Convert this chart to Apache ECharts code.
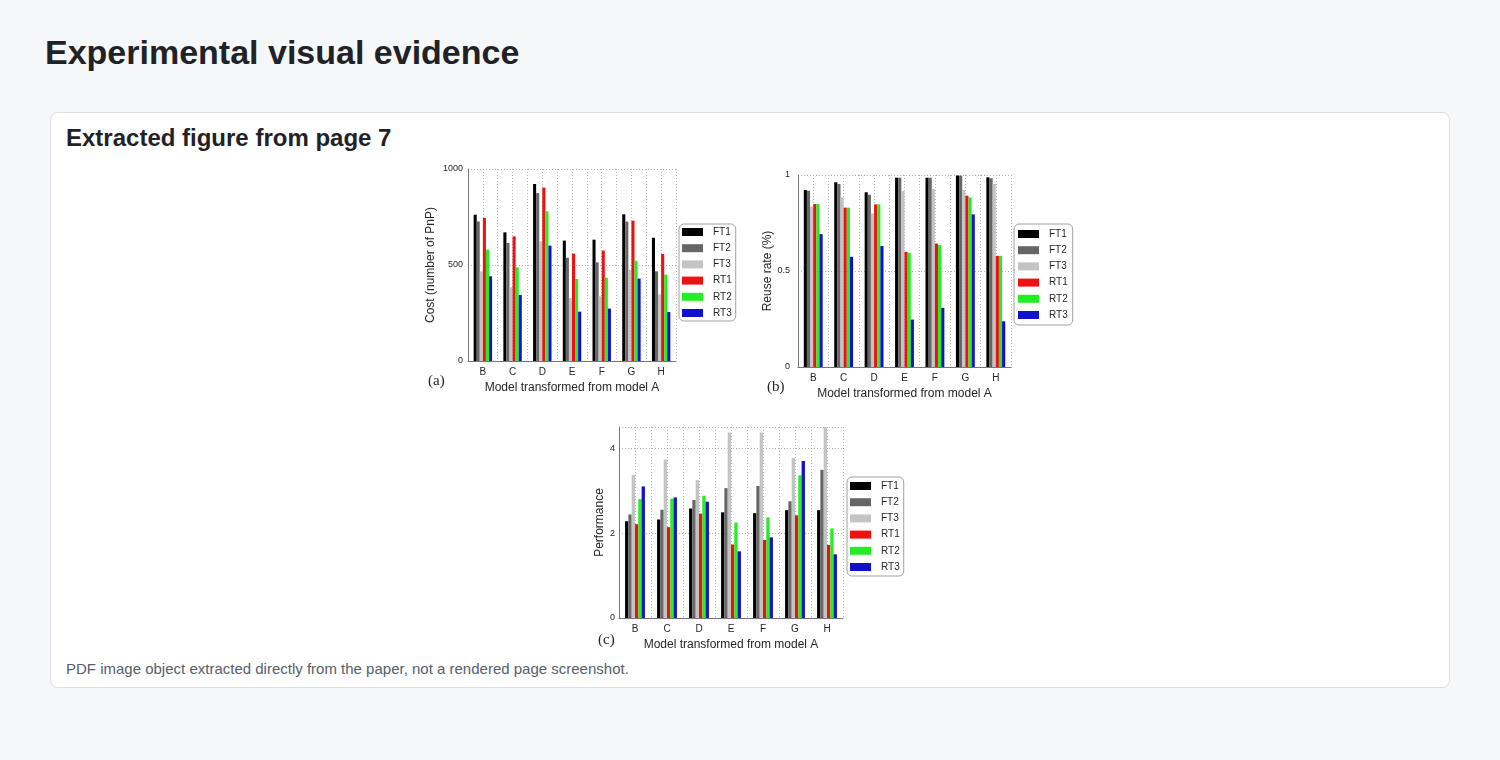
<!DOCTYPE html>
<html>
<head>
<meta charset="utf-8">
<title>Experimental visual evidence</title>
<script src="https://cdn.jsdelivr.net/npm/echarts@6/dist/echarts.min.js"></script>
<style>
  html, body {
    margin: 0;
    padding: 0;
    width: 1500px;
    height: 760px;
    background: #f6f7f9;
    font-family: 'Liberation Sans', Arial, sans-serif;
    overflow: hidden;
  }
  .page-title {
    position: absolute;
    left: 45px;
    top: 35px;
    margin: 0;
    font-size: 34px;
    line-height: 34px;
    font-weight: bold;
    color: #1f2328;
  }
  .card {
    position: absolute;
    left: 50px;
    top: 112px;
    width: 1398px;
    height: 574px;
    background: #fff;
    border: 1px solid #dcdfe4;
    border-radius: 8px;
  }
  .card-title {
    position: absolute;
    left: 66px;
    top: 126px;
    margin: 0;
    font-size: 24px;
    line-height: 24px;
    font-weight: bold;
    color: #1f2328;
  }
  .caption {
    position: absolute;
    left: 66px;
    top: 661px;
    font-size: 15px;
    line-height: 15px;
    color: #57606a;
  }
  #chart {
    position: absolute;
    left: 0;
    top: 0;
    width: 1500px;
    height: 760px;
  }
</style>
</head>
<body>
<h1 class="page-title">Experimental visual evidence</h1>
<div class="card"></div>
<h2 class="card-title">Extracted figure from page 7</h2>
<div class="caption">PDF image object extracted directly from the paper, not a rendered page screenshot.</div>
<div id="chart"></div>
<script>
// categories & series names
const models = ['B', 'C', 'D', 'E', 'F', 'G', 'H'];
const seriesNames = ['FT1', 'FT2', 'FT3', 'RT1', 'RT2', 'RT3'];
const seriesColors = ['#000000', '#666666', '#c4c4c4', '#ee1111', '#22ee22', '#1111cc'];

// (a) cost (number of PnP)
const costFT1 = [762, 670, 922, 627, 632, 764, 642];
const costFT2 = [727, 615, 875, 538, 514, 726, 467];
const costFT3 = [467, 384, 623, 328, 337, 476, 347];
const costRT1 = [745, 649, 903, 559, 575, 731, 557];
const costRT2 = [580, 488, 780, 427, 434, 523, 450];
const costRT3 = [441, 344, 601, 257, 273, 429, 255];
const costTicks = [0, 500, 1000];

// (b) reuse rate
const reuseFT1 = [0.922, 0.962, 0.910, 0.986, 0.986, 0.997, 0.988];
const reuseFT2 = [0.918, 0.953, 0.897, 0.986, 0.986, 0.997, 0.983];
const reuseFT3 = [0.835, 0.883, 0.800, 0.917, 0.927, 0.922, 0.953];
const reuseRT1 = [0.849, 0.830, 0.847, 0.600, 0.643, 0.892, 0.579];
const reuseRT2 = [0.849, 0.830, 0.847, 0.595, 0.635, 0.883, 0.579];
const reuseRT3 = [0.692, 0.574, 0.630, 0.247, 0.308, 0.795, 0.238];
const reuseTicks = [0, 0.5, 1];

// (c) performance
const perfFT1 = [2.28, 2.32, 2.58, 2.49, 2.47, 2.54, 2.54];
const perfFT2 = [2.44, 2.55, 2.78, 3.06, 3.11, 2.75, 3.49];
const perfFT3 = [3.37, 3.73, 3.25, 4.37, 4.37, 3.77, 4.6];
const perfRT1 = [2.21, 2.14, 2.46, 1.73, 1.84, 2.42, 1.72];
const perfRT2 = [2.80, 2.81, 2.88, 2.25, 2.37, 3.36, 2.11];
const perfRT3 = [3.10, 2.84, 2.74, 1.57, 1.90, 3.70, 1.50];
const perfTicks = [0, 2, 4];

const xName = 'Model transformed from model A';
const textColor = '#262626';
const dotLine = {color: '#b4b4b4', width: 1, type: [1, 2]};

// one panel of the figure: grid box, legend box, axis settings
const panels = [
  {
    tag: '(a)', tagPos: [428, 374],
    grid: {left: 468, top: 169, width: 208, height: 192},
    legend: {left: 679, top: 224, padding: [3, 4, 3, 3]},
    yName: 'Cost (number of PnP)', yNameGap: 31, yLabelMargin: 5,
    ticks: costTicks, max: 1000,
    data: [costFT1, costFT2, costFT3, costRT1, costRT2, costRT3]
  },
  {
    tag: '(b)', tagPos: [767, 380],
    grid: {left: 798, top: 175, width: 213, height: 192},
    legend: {left: 1014, top: 224, padding: [5, 5, 5, 4]},
    yName: 'Reuse rate (%)', yNameGap: 22, yLabelMargin: 8,
    ticks: reuseTicks, max: 1,
    data: [reuseFT1, reuseFT2, reuseFT3, reuseRT1, reuseRT2, reuseRT3]
  },
  {
    tag: '(c)', tagPos: [598, 633],
    grid: {left: 619, top: 427, width: 224, height: 191},
    legend: {left: 847, top: 477, padding: [4, 4, 4, 3]},
    yName: 'Performance', yNameGap: 13, yLabelMargin: 4,
    ticks: perfTicks, max: 4.5,
    data: [perfFT1, perfFT2, perfFT3, perfRT1, perfRT2, perfRT3]
  }
];

function buildOption() {
  let option = {
    animation: false,
    grid: [],
    xAxis: [],
    yAxis: [],
    legend: [],
    series: [],
    graphic: []
  };
  panels.forEach(function (p, i) {
    option.grid.push(Object.assign({containLabel: false}, p.grid));
    // category axis carrying the bars
    option.xAxis.push({
      type: 'category',
      gridIndex: i,
      data: models,
      position: 'bottom',
      name: xName,
      nameLocation: 'middle',
      nameGap: 21,
      nameTextStyle: {fontSize: 12, color: textColor},
      axisLine: {onZero: false, lineStyle: {color: '#777', width: 1}},
      axisTick: {show: false},
      axisLabel: {fontSize: 10, color: textColor, margin: 6},
      splitLine: {show: false}
    });
    // hidden value axis only for the half-step dotted grid
    option.xAxis.push({
      type: 'value',
      gridIndex: i,
      min: -0.5,
      max: models.length - 0.5,
      interval: 0.5,
      position: 'top',
      axisLine: {show: false, onZero: false},
      axisTick: {show: false},
      axisLabel: {show: false},
      splitLine: {show: true, lineStyle: dotLine}
    });
    let step = p.ticks[1] - p.ticks[0];
    option.yAxis.push({
      type: 'value',
      gridIndex: i,
      min: p.ticks[0],
      max: p.max,
      interval: step,
      name: p.yName,
      nameLocation: 'middle',
      nameGap: p.yNameGap,
      nameTextStyle: {fontSize: 12, color: textColor},
      axisLine: {show: true, onZero: false, lineStyle: {color: '#777', width: 1}},
      axisTick: {show: false},
      axisLabel: {
        fontSize: 9,
        color: textColor,
        margin: p.yLabelMargin,
        formatter: function (v) {
          return p.ticks.indexOf(v) >= 0 ? String(v) : '';
        }
      },
      splitLine: {show: true, lineStyle: dotLine}
    });
    option.legend.push({
      orient: 'vertical',
      left: p.legend.left,
      top: p.legend.top,
      padding: p.legend.padding,
      data: seriesNames,
      icon: 'rect',
      itemWidth: 21,
      itemHeight: 8,
      itemGap: 6.2,
      selectedMode: false,
      backgroundColor: '#fff',
      borderColor: '#a0a0a0',
      borderWidth: 1,
      borderRadius: 5,
      textStyle: {fontSize: 10, color: textColor, lineHeight: 10, padding: [0, 0, 0, 5]}
    });
    seriesNames.forEach(function (name, k) {
      option.series.push({
        name: name,
        type: 'bar',
        xAxisIndex: i * 2,
        yAxisIndex: i,
        data: p.data[k],
        barGap: '0%',
        barCategoryGap: '38%',
        itemStyle: {color: seriesColors[k]},
        emphasis: {disabled: true}
      });
    });
    option.graphic.push({
      type: 'text',
      left: p.tagPos[0],
      top: p.tagPos[1],
      style: {text: p.tag, font: '15px "Liberation Serif", serif', fill: textColor}
    });
  });
  return option;
}

let myChart = echarts.init(document.getElementById('chart'));
myChart.setOption(buildOption());
</script>
</body>
</html>
